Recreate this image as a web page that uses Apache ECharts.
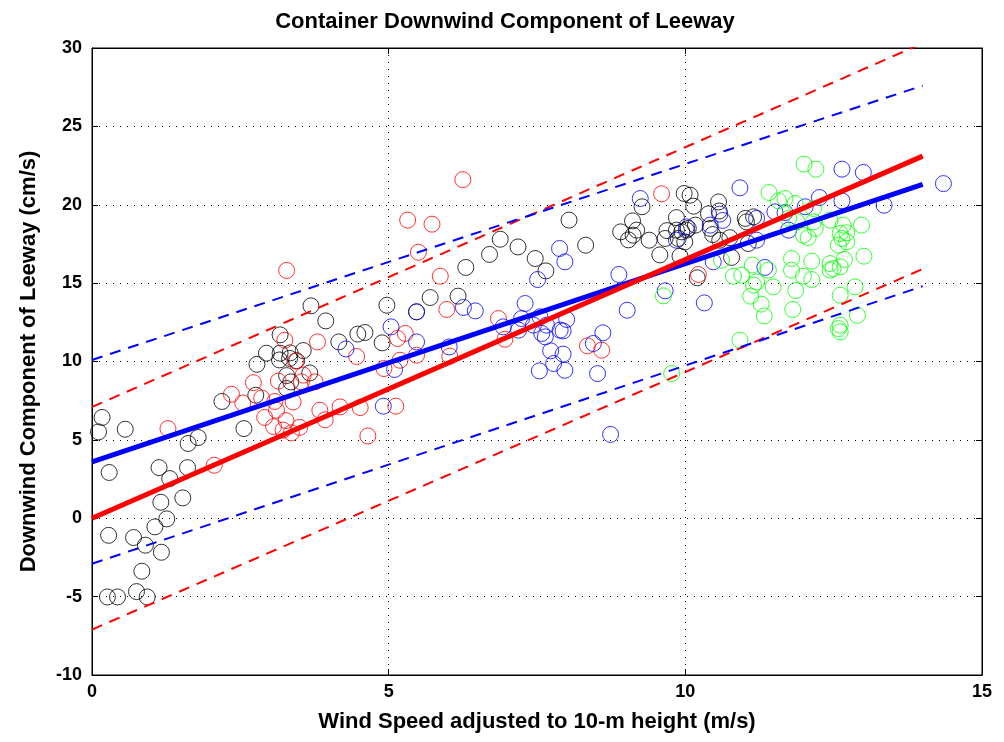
<!DOCTYPE html>
<html>
<head>
<meta charset="utf-8">
<script src="https://cdn.jsdelivr.net/npm/echarts@6/dist/echarts.min.js"></script>
<style>html,body{margin:0;padding:0;background:#fff}#c{width:1004px;height:742px}</style>
</head>
<body>
<div id="c"></div>
<script>
var titleText = 'Container Downwind Component of Leeway';
var xName = 'Wind Speed adjusted to 10-m height (m/s)';
var yName = 'Downwind Component of Leeway (cm/s)';

var blackPts = [[0.17,6.43],[0.11,5.51],[0.56,5.68],[0.29,2.92],[1.13,3.23],[1.31,2.53],[1.61,3.23],[1.62,4.77],[1.79,5.15],[2.19,7.45],[2.56,5.72],[2.78,9.82],[2.76,7.85],
[1.16,1.02],[1.53,1.30],[1.26,-0.04],[1.06,-0.55],[0.28,-1.09],[0.70,-1.23],[0.90,-1.72],[1.17,-2.17],[0.84,-3.38],[0.75,-4.68],[0.26,-5.02],[0.43,-5.02],[0.93,-5.02],
[3.69,13.55],[4.97,13.59],[3.94,12.59],[3.17,11.7],[4.48,11.75],[4.60,11.85],[4.16,11.25],[4.89,11.19],[2.94,10.53],[3.17,10.53],[3.34,10.55],[3.56,10.7],[3.16,10.1],[3.33,10.2],[3.45,10.05],[3.67,9.27],[3.28,9.1],[3.35,8.7],[3.28,8.28],[5.47,13.17],
[8.04,19.02],[8.91,18.27],[6.88,17.80],[7.18,17.31],[8.32,17.42],[6.70,16.83],[7.47,16.57],[7.65,15.78],[6.30,16.00],[5.70,14.08],[6.17,14.17],
[9.98,20.72],[10.08,20.61],[10.14,19.91],[9.85,19.18],[9.27,19.87],[9.11,18.97],[9.18,18.38],[9.12,18.06],[9.04,17.76],[9.39,17.74],[9.66,17.85],[9.69,18.35],[9.85,18.38],[9.94,18.27],[10.02,18.38],[10.05,18.49],[9.88,17.85],[9.99,17.63],[10.17,18.70],[10.39,19.42],[10.56,20.18],[10.57,19.6],[10.42,18.49],[10.46,18.1],[10.58,17.74],[10.75,17.9],[11.01,19.13],[11.15,19.23],[11.03,18.91],[11.06,17.53],[9.57,16.8],[9.91,16.72],[10.78,16.64],[10.20,15.34]];

var redPts = [[1.28,5.72],[2.06,3.38],[2.35,7.91],[2.54,7.35],[2.72,8.65],
[5.32,19.02],[3.28,15.81],[5.50,16.97],[3.80,11.25],[3.25,11.36],[5.28,11.79],[5.15,11.47],[5.47,10.40],[4.46,10.32],[3.43,10.03],
[3.14,8.75],[3.56,9.13],[3.53,8.70],[3.76,8.7],[2.86,7.67],[3.08,7.45],[3.11,6.89],[3.39,7.42],[3.84,6.89],[4.18,7.10],[4.52,7.06],[2.91,6.43],[3.27,6.23],[3.06,5.85],[3.22,5.62],[3.36,5.45],[3.50,5.8],[3.93,6.28],[4.65,5.25],
[4.92,9.55],[5.19,10.08],[5.12,7.15],
[6.25,21.6],[5.73,18.76],[5.87,15.44],[5.98,13.32],[6.85,12.74],[6.96,11.42],[6.03,10.34],[8.35,11.0],[8.59,10.72],
[9.60,20.7],[10.22,15.55]];

var bluePts = [[5.04,12.21],[4.28,10.8],[4.91,7.15],[5.10,9.49],[5.47,11.25],[5.47,13.17],
[7.88,17.21],[7.97,16.36],[7.51,15.23],[7.30,13.70],[6.26,13.45],[6.46,13.23],[7.24,12.74],[6.93,12.21],[7.19,12.0],[7.44,12.32],[7.55,12.85],[7.66,12.32],[8.00,12.68],[7.89,12.0],[7.94,11.95],[7.58,11.79],[7.64,11.57],[8.61,11.83],[8.45,11.15],[7.73,10.68],[7.94,10.47],[7.78,9.87],[7.97,9.44],[7.54,9.40],[8.52,9.23],[6.02,10.93],[8.74,5.35],[8.88,15.55],
[10.92,21.08],[9.24,20.40],[10.58,19.40],[10.63,19.0],[10.02,18.59],[11.20,19.13],[11.51,19.55],[10.42,18.70],[11.20,17.74],[10.47,16.36],[11.34,16.0],[9.85,17.74],[9.66,14.51],[9.02,13.27],[10.32,13.74],[11.74,18.38],
[12.64,22.27],[13.0,22.06],[12.26,20.46],[12.64,20.25],[12.02,19.87],[13.35,19.97],[11.68,19.50],[14.35,21.35]];

var greenPts = [[11.41,20.78],[11.68,20.40],[10.61,16.46],[11.13,16.15],[10.81,15.44],[10.95,15.51],[11.40,15.83],[11.20,15.08],[11.15,14.87],[11.48,14.76],[11.10,14.17],[11.28,13.66],[11.33,12.91],[9.63,14.19],[10.92,11.36],[9.77,9.23],[11.79,16.57],[11.79,15.83],[11.86,14.53],[11.81,13.32],
[12.00,22.59],[12.20,22.27],[11.57,20.25],[11.85,20.08],[12.16,19.76],[11.74,19.13],[11.88,18.91],[12.16,18.91],[12.19,18.49],[12.44,19.02],[12.66,18.70],[12.97,18.70],[12.72,18.21],[12.61,18.17],[12.64,17.85],[12.72,17.64],[12.58,17.42],[11.99,18.06],[12.07,17.91],[12.13,16.40],[11.99,15.44],[12.13,15.23],[12.44,16.25],[12.49,15.93],[12.61,16.04],[12.68,16.51],[12.44,15.83],[13.01,16.72],[12.86,14.76],[12.61,14.23],[12.90,12.95],[12.61,12.32],[12.58,12.10],[12.61,11.89]];

var redFit = [[0,0],[14,23.1]];
var blueFit = [[0,3.6],[14,21.3]];
var redUpper = [[0,7.1],[14,30.3]];
var redLower = [[0,-7.1],[14,15.9]];
var blueUpper = [[0,10.1],[14,27.6]];
var blueLower = [[0,-2.9],[14,14.8]];

var xTicks = {min:0, max:15, interval:5};
var yTicks = {min:-10, max:30, interval:5};

var FONT = '"Liberation Sans", Arial, sans-serif';
function sc(data, color){
  return {type:'scatter', data:data, symbol:'circle', symbolSize:16, silent:true,
    itemStyle:{color:'rgba(0,0,0,0)', borderColor:color, borderWidth:1}};
}
function ln(data, color, w, dash){
  return {type:'line', data:data, symbol:'none', silent:true, z:5,
    lineStyle:{color:color, width:w, type:dash ? [11,8] : 'solid', cap:'butt'}};
}
var chart = echarts.init(document.getElementById('c'));
var labelStyle = {color:'#000', fontFamily:FONT, fontWeight:'bold', fontSize:18};
chart.setOption({
  animation:false,
  backgroundColor:'#fff',
  title:{text:titleText, left:500, top:6, textAlign:'center',
    textStyle:{color:'#000', fontFamily:FONT, fontWeight:'bold', fontSize:22}},
  grid:{left:92, right:22, top:48, bottom:67, show:true, borderColor:'#000', borderWidth:1},
  xAxis:[{type:'value', min:xTicks.min, max:xTicks.max, interval:xTicks.interval,
    name:xName, nameLocation:'middle', nameGap:36,
    nameTextStyle:{color:'#000', fontFamily:FONT, fontWeight:'bold', fontSize:22},
    axisLine:{onZero:false, lineStyle:{color:'#000'}}, axisTick:{inside:true, length:6, lineStyle:{color:'#000'}},
    axisLabel:Object.assign({margin:8}, labelStyle),
    splitLine:{show:true, lineStyle:{color:'#000', type:[1,6], width:1}}},
    {type:'value', position:'top', min:xTicks.min, max:xTicks.max, interval:xTicks.interval,
    axisLine:{onZero:false, lineStyle:{color:'#000'}}, axisTick:{inside:true, length:6, lineStyle:{color:'#000'}},
    axisLabel:{show:false}, splitLine:{show:false}}],
  yAxis:[{type:'value', min:yTicks.min, max:yTicks.max, interval:yTicks.interval,
    name:yName, nameLocation:'middle', nameGap:52, nameRotate:90,
    nameTextStyle:{color:'#000', fontFamily:FONT, fontWeight:'bold', fontSize:22},
    axisLine:{onZero:false, lineStyle:{color:'#000'}}, axisTick:{inside:true, length:6, lineStyle:{color:'#000'}},
    axisLabel:Object.assign({margin:10}, labelStyle),
    splitLine:{show:true, lineStyle:{color:'#000', type:[1,6], width:1}}},
    {type:'value', position:'right', min:yTicks.min, max:yTicks.max, interval:yTicks.interval,
    axisLine:{onZero:false, lineStyle:{color:'#000'}}, axisTick:{inside:true, length:6, lineStyle:{color:'#000'}},
    axisLabel:{show:false}, splitLine:{show:false}}],
  series:[
    sc(blackPts,'#000000'), sc(redPts,'#ff0000'), sc(bluePts,'#0000ff'), sc(greenPts,'#00ff00'),
    ln(redUpper,'#ff0000',2,true), ln(redLower,'#ff0000',2,true),
    ln(blueUpper,'#0000ff',2,true), ln(blueLower,'#0000ff',2,true),
    ln(blueFit,'#0000ff',5,false), ln(redFit,'#ff0000',5,false)
  ]
});
</script>
</body>
</html>
